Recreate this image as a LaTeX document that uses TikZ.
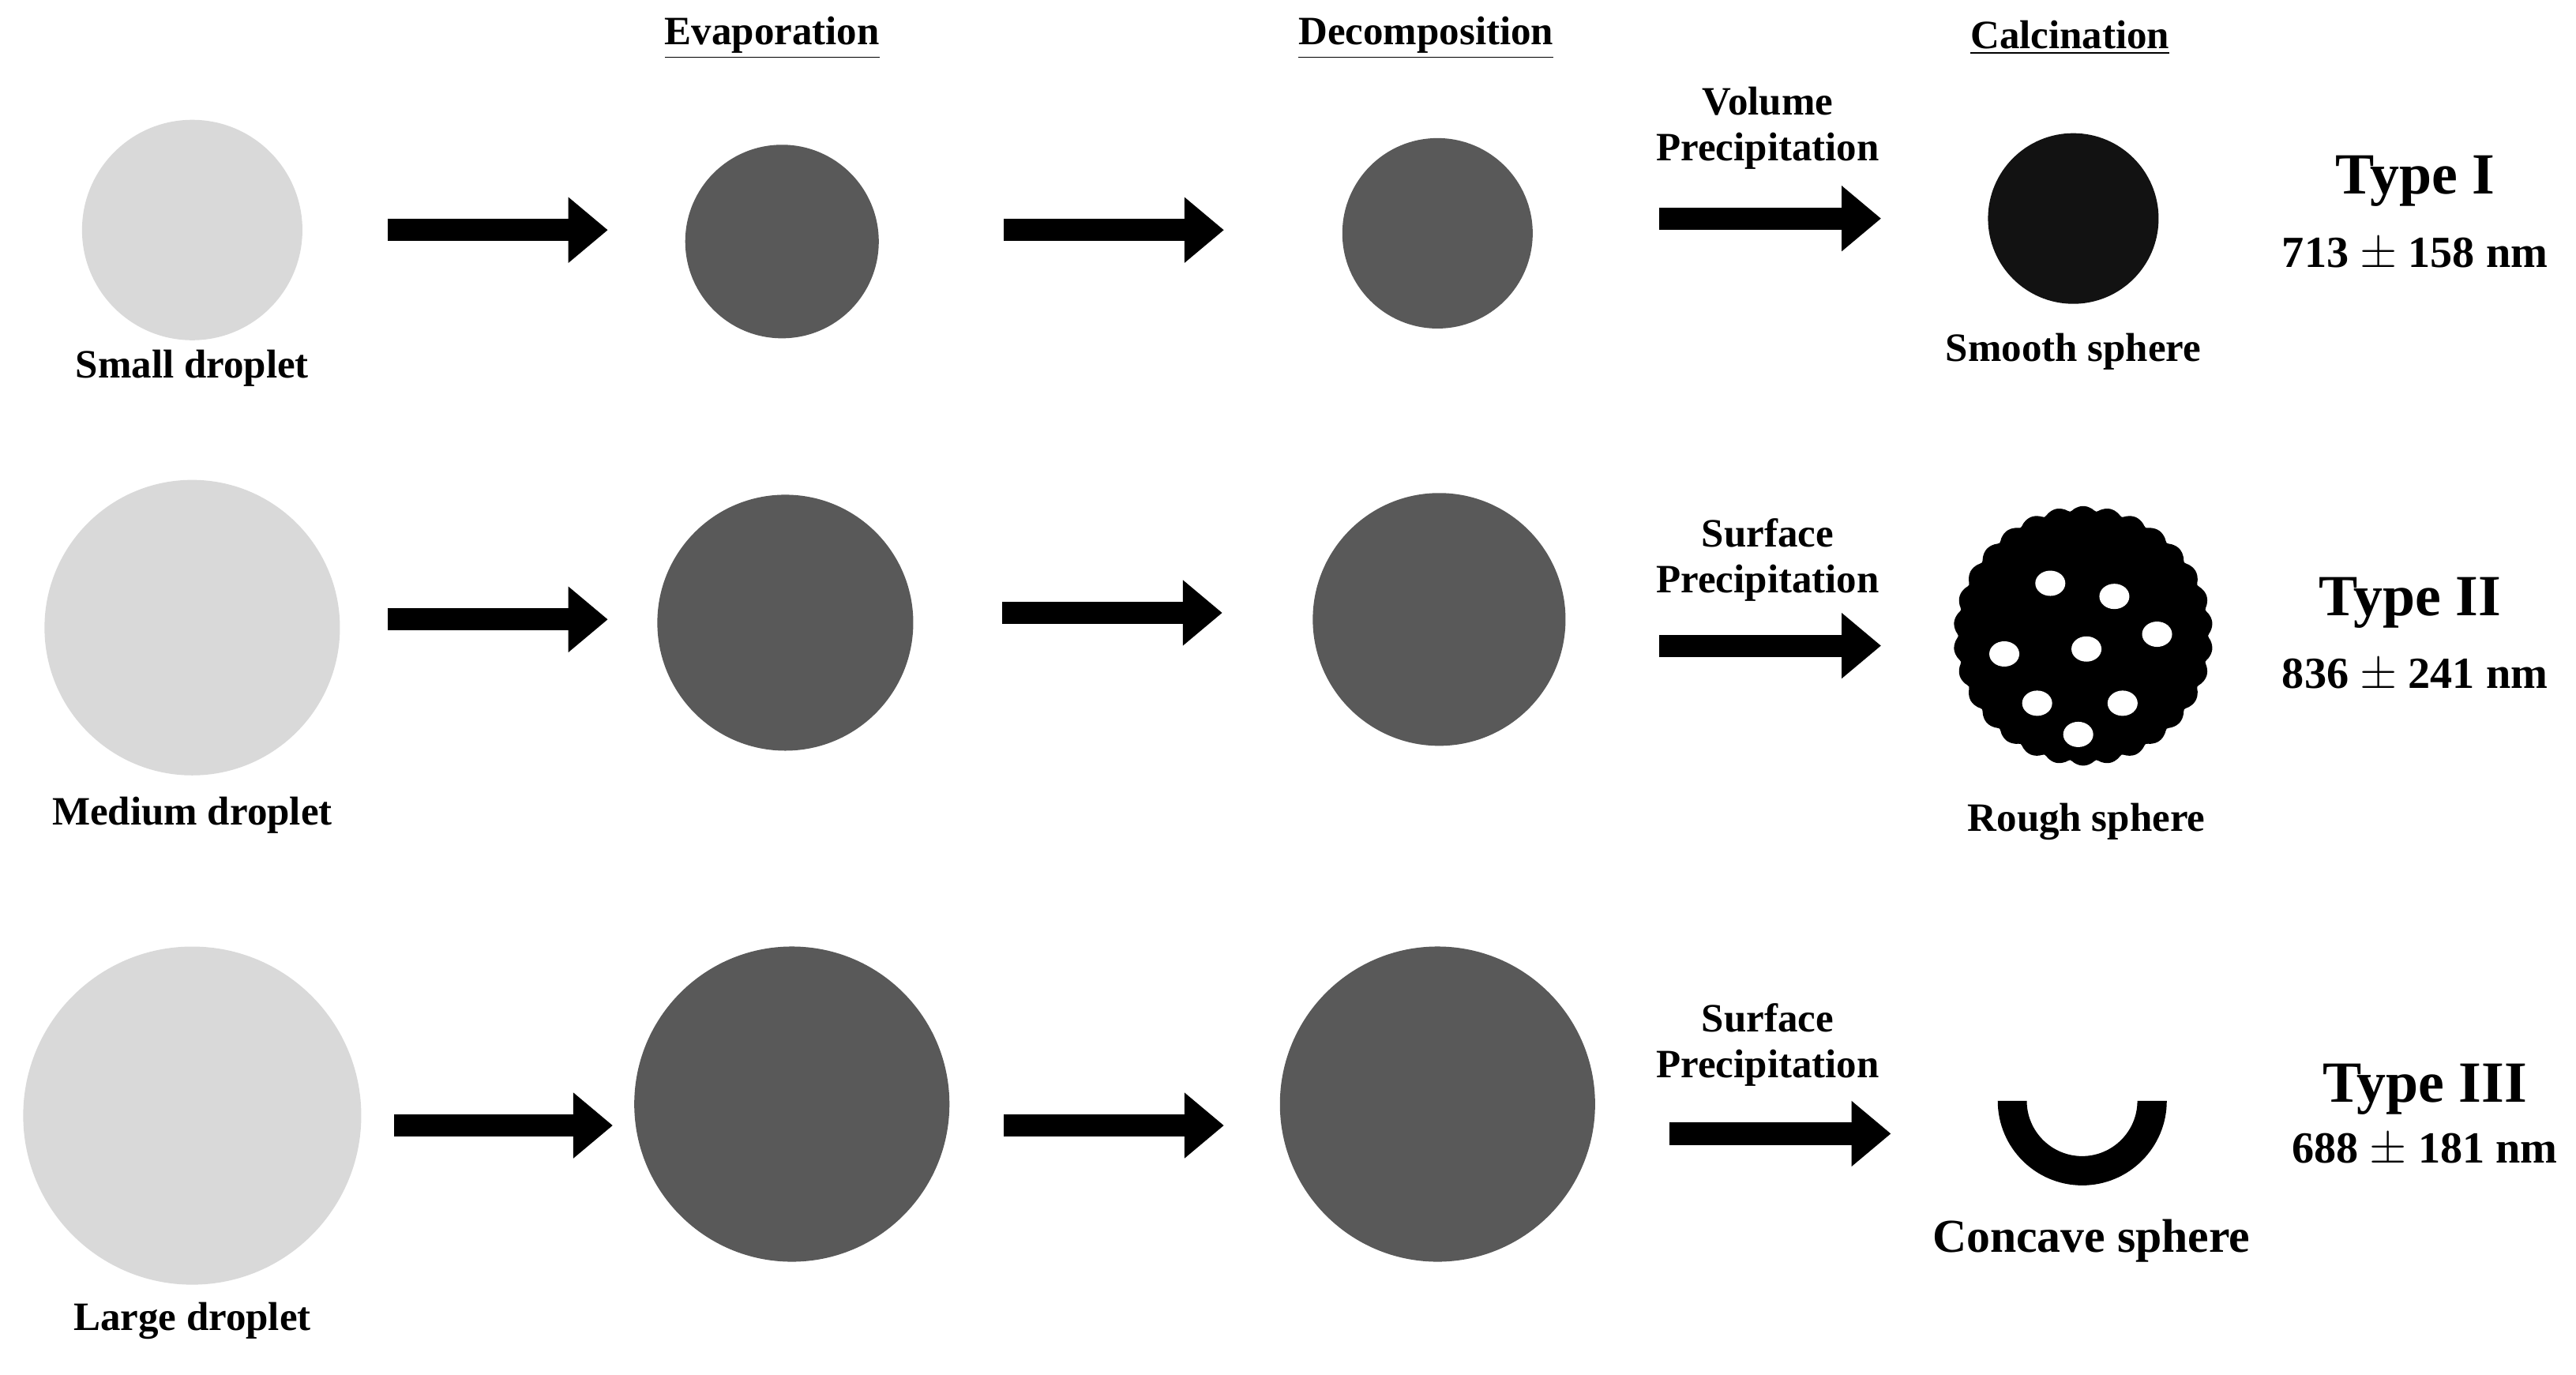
\documentclass[tikz,border=0pt]{standalone}
\usepackage{fontspec}
\setmainfont{Liberation Serif}
\usetikzlibrary{arrows.meta}
\definecolor{drop}{HTML}{D9D9D9}
\definecolor{solid}{HTML}{595959}
\tikzset{
  droplet/.style={circle,fill=drop,inner sep=0pt},
  particle/.style={circle,fill=solid,inner sep=0pt},
  lab/.style={font=\bfseries\fontsize{14.5}{16.5}\selectfont,align=center},
  head/.style={font=\bfseries\fontsize{14.5}{16.5}\selectfont},
  kind/.style={font=\bfseries\fontsize{21}{23}\selectfont},
  size/.style={font=\bfseries\fontsize{16}{18}\selectfont},
  fatarrow/.style={line width=8pt,-{Triangle[length=0.5cm,width=0.8cm]}}
}
\begin{document}
\begin{tikzpicture}[x=0.0208cm,y=-0.0208cm]
\useasboundingbox (0,0) rectangle (1568,836.5);
% headers
\node[head] (evap) at (470,23) {\underline{Evaporation}};
\node[head] (deco) at (868,23) {\underline{Decomposition}};
\node[head] (calc) at (1260,23) {\underline{Calcination}};
% row 1
\node[droplet,minimum size=2.79cm] (d1) at (117,140) {};
\node[lab] (l1) at (117,224) {Small droplet};
\node[particle,minimum size=2.45cm] (e1) at (476,147) {};
\node[particle,minimum size=2.41cm] (c1) at (875,142) {};
\node[lab] (p1) at (1076,78) {Volume\\Precipitation};
\node[circle,fill=black!93,inner sep=0pt,minimum size=2.16cm] (s1) at (1262,133) {};
\node[lab] (t1) at (1262,214) {Smooth sphere};
\node[kind] (k1) at (1470,110) {Type I};
\node[size] (n1) at (1470,155) {713 $\pm$ 158 nm};
\coordinate (a1) at (236,140); \coordinate (b1) at (370,140);
\coordinate (f1) at (611,140); \coordinate (g1) at (745,140);
\coordinate (h1) at (1010,133); \coordinate (i1) at (1145,133);
\draw[fatarrow] (a1) -- (b1);
\draw[fatarrow] (f1) -- (g1);
\draw[fatarrow] (h1) -- (i1);
% row 2
\node[droplet,minimum size=3.74cm] (d2) at (117,382) {};
\node[lab] (l2) at (117,496) {Medium droplet};
\node[particle,minimum size=3.24cm] (e2) at (478,379) {};
\node[particle,minimum size=3.20cm] (c2) at (876,377) {};
\node[lab] (p2) at (1076,341) {Surface\\Precipitation};
\fill[black] plot[smooth cycle,domain=0:358,samples=180,variable=\t]
  ({1268+(76+3*abs(sin(15*\t)))*cos(\t)},{387+(76+3*abs(sin(15*\t)))*sin(\t)});
\foreach \hx/\hy in {1248/355,1287/363,1313/386,1270/395,1220/398,1240/428,1292/428,1265/447}
  \fill[white] (\hx,\hy) ellipse (0.19cm and 0.16cm);
\node[lab] (t2) at (1270,500) {Rough sphere};
\node[kind] (k2) at (1467,367) {Type II};
\node[size] (n2) at (1470,411) {836 $\pm$ 241 nm};
\coordinate (a2) at (236,377); \coordinate (b2) at (370,377);
\coordinate (f2) at (610,373); \coordinate (g2) at (744,373);
\coordinate (h2) at (1010,393); \coordinate (i2) at (1145,393);
\draw[fatarrow] (a2) -- (b2);
\draw[fatarrow] (f2) -- (g2);
\draw[fatarrow] (h2) -- (i2);
% row 3
\node[droplet,minimum size=4.28cm] (d3) at (117,679) {};
\node[lab] (l3) at (117,804) {Large droplet};
\node[particle,minimum size=3.99cm] (e3) at (482,672) {};
\node[particle,minimum size=3.99cm] (c3) at (875,672) {};
\node[lab] (p3) at (1076,636) {Surface\\Precipitation};
\fill[black] (1216,670) arc[start angle=180,end angle=360,radius=1.07cm]
  -- (1301,670) arc[start angle=360,end angle=180,radius=0.70cm] -- cycle;
\node[lab,font=\bfseries\fontsize{17}{19}\selectfont] (t3) at (1273,755) {Concave sphere};
\node[kind] (k3) at (1476,663) {Type III};
\node[size] (n3) at (1476,700) {688 $\pm$ 181 nm};
\coordinate (a3) at (240,685); \coordinate (b3) at (373,685);
\coordinate (f3) at (611,685); \coordinate (g3) at (745,685);
\coordinate (h3) at (1016,690); \coordinate (i3) at (1151,690);
\draw[fatarrow] (a3) -- (b3);
\draw[fatarrow] (f3) -- (g3);
\draw[fatarrow] (h3) -- (i3);
\end{tikzpicture}
\end{document}
